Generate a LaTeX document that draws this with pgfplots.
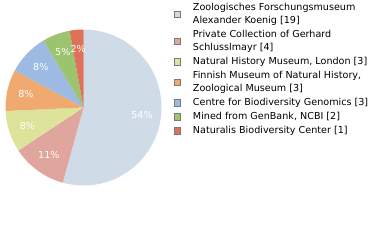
\documentclass[border=0pt]{standalone}
\usepackage{fontspec}
\setmainfont{DejaVu Sans}
\usepackage{pgfplots}
\pgfplotsset{compat=1.18}
\definecolor{c1}{HTML}{CFDBE7}
\definecolor{c2}{HTML}{E0A59D}
\definecolor{c3}{HTML}{DDE39B}
\definecolor{c4}{HTML}{F0AA6F}
\definecolor{c5}{HTML}{9DBAE2}
\definecolor{c6}{HTML}{9CC46F}
\definecolor{c7}{HTML}{DD7159}
\definecolor{legborder}{HTML}{7A7A7A}
\newcommand\ls{\rule[-3.5bp]{0pt}{13bp}}
\tikzset{pielabel/.style={text=white,font=\fontsize{9.6bp}{11bp}\selectfont,inner sep=0pt}}
\begin{document}
\begin{tikzpicture}
\path[use as bounding box] (-83.5bp,-132.5bp) rectangle (296.5bp,107.5bp);
\begin{axis}[at={(0,0)},anchor=center,scale only axis,width=156bp,height=156bp,
  xmin=-1,xmax=1,ymin=-1,ymax=1,hide axis,clip=false,
  legend image code/.code={\draw[#1,line width=0.8bp] (0.4bp,-3.1bp) rectangle (6.6bp,3.1bp);},
  legend style={at={(1.0801,1.1795)},anchor=north west,draw=none,fill=none,
    inner sep=0pt,outer sep=0pt,column sep=12bp,row sep=1bp,
    font=\fontsize{9.6bp}{13bp}\selectfont,
    nodes={inner xsep=0pt,inner ysep=0pt,text depth={}}},
  legend cell align=left,
  legend style={cells={align=left}}]
\addlegendimage{fill=c1,draw=legborder}
\addlegendentry{\ls Zoologisches Forschungsmuseum\\\ls Alexander Koenig [19]}
\addlegendimage{fill=c2,draw=legborder}
\addlegendentry{\ls Private Collection of Gerhard\\\ls Schlusslmayr [4]}
\addlegendimage{fill=c3,draw=legborder}
\addlegendentry{\ls Natural History Museum, London [3]}
\addlegendimage{fill=c4,draw=legborder}
\addlegendentry{\ls Finnish Museum of Natural History,\\\ls Zoological Museum [3]}
\addlegendimage{fill=c5,draw=legborder}
\addlegendentry{\ls Centre for Biodiversity Genomics [3]}
\addlegendimage{fill=c6,draw=legborder}
\addlegendentry{\ls Mined from GenBank, NCBI [2]}
\addlegendimage{fill=c7,draw=legborder}
\addlegendentry{\ls Naturalis Biodiversity Center [1]}
\pgfmathsetmacro\s{90}
\foreach \v/\c/\p in {19/c1/54,4/c2/11,3/c3/8,3/c4/8,3/c5/8,2/c6/5,1/c7/2}{
  \pgfmathsetmacro\e{\s-360*\v/35}
  \pgfmathsetmacro\m{(\s+\e)/2}
  \edef\temp{\noexpand\fill[\c] (axis cs:0,0) -- ++(\s:78bp) arc[start angle=\s, end angle=\e, radius=78bp] -- cycle;
    \noexpand\path (axis cs:0,0) ++(\m:59bp) node[pielabel] {\p\noexpand\%};}
  \temp
  \global\let\s\e
}
\end{axis}
\end{tikzpicture}
\end{document}
